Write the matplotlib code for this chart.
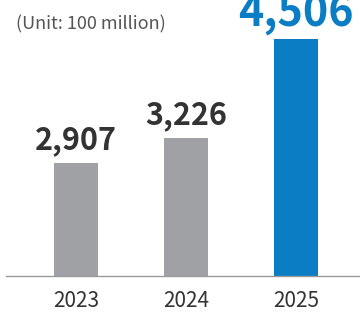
import matplotlib
matplotlib.use("Agg")
import matplotlib.pyplot as plt

plt.rcParams['font.family'] = ['Noto Sans CJK KR', 'DejaVu Sans']

years = ["2023", "2024", "2025"]
values = [2907, 3226, 4506]
labels = ["2,907", "3,226", "4,506"]
colors = ["#a0a1a5", "#a0a1a5", "#0a7dc5"]
label_colors = ["#333333", "#333333", "#0a7dc5"]
label_sizes = [22, 22, 31]
unit_text = "(Unit: 100 million)"

fig = plt.figure(figsize=(3.6, 3.12), dpi=100)
ax = fig.add_axes([6/360, 36/312, 354/360, 276/312])

x = list(range(len(years)))
bars = ax.bar(x, values, width=0.4, color=colors, zorder=2)
ax.set_xlim(-0.636, 2.582)
ax.set_ylim(1440, 5013)

for xi, v, lab, c, s in zip(x, values, labels, label_colors, label_sizes):
    ax.annotate(lab, (xi, v), xytext=(0, 10), textcoords="offset points",
                ha="center", va="baseline", fontsize=s, fontweight="bold", color=c)

ax.set_xticks(x)
ax.set_xticklabels(years, fontsize=15, color="#333333")
ax.tick_params(axis="x", length=0, pad=10)
ax.set_yticks([])
for side in ["top", "left", "right"]:
    ax.spines[side].set_visible(False)
ax.spines["bottom"].set_color("#9a9a9a")
ax.spines["bottom"].set_linewidth(1.0)

fig.text(16/360, 1 - 24/312, unit_text, fontsize=13, color="#555555",
         ha="left", va="center")

fig.savefig("out.png", dpi=100)
